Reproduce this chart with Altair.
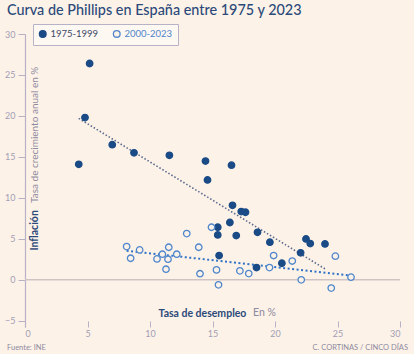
import altair as alt
import pandas as pd

# 1975-1999
x_old = [5.17, 4.8, 4.3, 6.98, 8.72, 11.55, 14.44, 16.52, 14.6, 16.6, 17.3, 17.64, 16.39,
         15.42, 15.42, 16.9, 18.6, 15.53, 18.52, 19.59, 22.48, 22.82, 24.0, 22.05, 20.55]
y_old = [26.4, 19.8, 14.1, 16.5, 15.5, 15.2, 14.5, 14.0, 12.2, 9.1, 8.33, 8.25, 7.0,
         6.42, 5.49, 5.4, 5.8, 2.97, 1.5, 4.6, 5.0, 4.43, 4.39, 3.3, 2.03]
# 2000-2023
x_new = [8.13, 8.45, 9.17, 10.56, 10.99, 11.44, 11.5, 11.28, 12.14, 12.94, 13.9, 14.0,
         14.92, 15.32, 15.48, 17.19, 17.9, 19.56, 19.89, 21.38, 22.1, 24.83, 24.5, 26.08]
y_new = [4.06, 2.64, 3.66, 2.56, 3.13, 2.52, 3.98, 1.3, 3.13, 5.65, 3.98, 0.75,
         6.42, 1.22, -0.61, 1.1, 0.77, 1.5, 2.97, 2.3, 0.0, 2.89, -1.0, 0.33]

series = ["1975-1999", "2000-2023"]
x_ticks = [0, 5, 10, 15, 20, 25, 30]
y_ticks = [-5, 0, 5, 10, 15, 20, 25, 30]

BG = "#fdf2e8"
AX = "#b8b2c6"
NAVY = "#1a4b86"
BLUE = "#4f86cc"

df = pd.DataFrame({
    "paro": x_old + x_new,
    "ipc": y_old + y_new,
    "periodo": [series[0]] * len(x_old) + [series[1]] * len(x_new),
})

xs = alt.Scale(domain=[0, 30], nice=False)
ys = alt.Scale(domain=[-5.75, 30], nice=False)

base = alt.Chart(df)

zero = alt.Chart(pd.DataFrame({"y": [0]})).mark_rule(color="#cfc3c3", strokeWidth=1.5).encode(
    y=alt.Y("y:Q", scale=ys)
)

reg_old = base.transform_filter(alt.datum.periodo == series[0]).transform_regression(
    "paro", "ipc"
).mark_line(color="#5b6b8e", strokeWidth=1.6, strokeDash=[1.5, 2]).encode(
    x=alt.X("paro:Q", scale=xs), y=alt.Y("ipc:Q", scale=ys)
)
reg_new = base.transform_filter(alt.datum.periodo == series[1]).transform_regression(
    "paro", "ipc"
).mark_line(color="#2f72c6", strokeWidth=2, strokeDash=[2, 2.5]).encode(
    x=alt.X("paro:Q", scale=xs), y=alt.Y("ipc:Q", scale=ys)
)

leg = alt.Legend(
    title=None, orient="none", legendX=8, legendY=-10, direction="horizontal",
    strokeColor=AX, fillColor="#fef8f2", padding=5, symbolSize=45, symbolStrokeWidth=1.3,
    labelFont="Lato", labelFontSize=9.5, columnPadding=11, labelOffset=3,
    labelColor={"expr": "datum.label == '2000-2023' ? '#4f86cc' : '#3a4a68'"},
    cornerRadius=0,
)

points = base.mark_point(size=42, strokeWidth=1.3, opacity=1).encode(
    x=alt.X("paro:Q", scale=xs, axis=alt.Axis(
        values=x_ticks, domain=False, grid=False, tickSize=6, tickColor=AX, offset=-6,
        labelColor="#a29eb4", labelFont="Lato", labelFontSize=9, labelPadding=2,
        title="Tasa de desempleo", titleFont="Lato", titleFontWeight="bold", titleFontSize=10.5,
        titleColor="#2b4a7a", titleX=133, titleY=-5, titleAlign="left",
        titleBaseline="alphabetic", titleAnchor="start")),
    y=alt.Y("ipc:Q", scale=ys, axis=alt.Axis(
        values=y_ticks, domain=True, domainColor=AX, domainWidth=1.2, grid=False,
        tickSize=7, tickColor=AX, labelColor="#a29eb4", labelFont="Lato", labelFontSize=9,
        labelPadding=3,
        title="Inflación", titleFont="Lato", titleFontWeight="bold", titleFontSize=10.5,
        titleColor="#2b4a7a", titleX=9.5, titleY=216, titleAngle=270, titleAlign="left",
        titleBaseline="middle", titleAnchor="start")),
    fill=alt.Fill("periodo:N", scale=alt.Scale(domain=series, range=[NAVY, BG]), legend=leg),
    stroke=alt.Stroke("periodo:N", scale=alt.Scale(domain=series, range=[NAVY, BLUE]), legend=leg),
    order=alt.Order("periodo:N"),
)

ytitle2 = alt.Chart(pd.DataFrame({"t": ["Tasa de crecimiento anual en %"]})).mark_text(
    angle=270, align="left", baseline="middle", font="Lato", fontSize=10, color="#8e8aa0"
).encode(text="t:N", x=alt.value(9.5), y=alt.value(169))

xtitle2 = alt.Chart(pd.DataFrame({"t": ["En %"]})).mark_text(
    align="left", baseline="alphabetic", font="Lato", fontSize=10.5, color="#8e8aa0"
).encode(text="t:N", x=alt.value(228), y=alt.value(282))

title = alt.Chart(pd.DataFrame({"t": ["Curva de Phillips en España entre 1975 y 2023"]})).mark_text(
    align="left", baseline="alphabetic", font="Lato", fontSize=14.4, fontWeight=500, color="#2b4a7a"
).encode(text="t:N", x=alt.value(-18), y=alt.value(-19))

src = alt.Chart(pd.DataFrame({"t": ["Fuente: INE"]})).mark_text(
    align="left", baseline="alphabetic", font="Lato", fontSize=7.5, color="#8e8aa0"
).encode(text="t:N", x=alt.value(-18), y=alt.value(316))

credit = alt.Chart(pd.DataFrame({"t": ["C. CORTINAS / CINCO DÍAS"]})).mark_text(
    align="right", baseline="alphabetic", font="Lato", fontSize=7.5, color="#8e8aa0"
).encode(text="t:N", x=alt.value(383), y=alt.value(316))

chart = alt.layer(zero, reg_old, reg_new, points, ytitle2, xtitle2, title, src, credit).properties(
    width=375, height=293,
    autosize=alt.AutoSizeParams(type="none"),
    padding={"left": 25, "top": 34, "right": 14, "bottom": 27},
    background=BG,
).configure_view(stroke=None)

chart.save("out.html", embed_options={"renderer": "svg", "actions": False})
